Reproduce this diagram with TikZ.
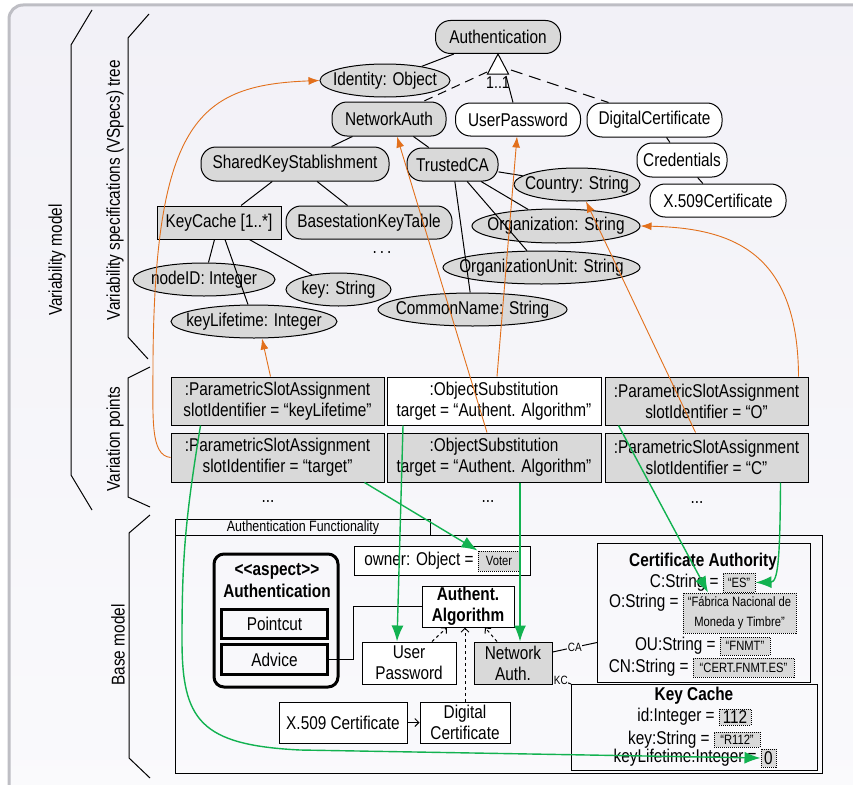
\documentclass[tikz,border=0pt]{standalone}
\usepackage{fontspec}
\setmainfont{Liberation Sans}[FakeStretch=0.83]
\usepackage{tikz}
\usetikzlibrary{arrows.meta,shapes.geometric,positioning}

\definecolor{vmgray}{RGB}{217,217,217}
\definecolor{vmorange}{RGB}{226,112,28}
\definecolor{vmgreen}{RGB}{18,178,80}
\definecolor{vmframe}{RGB}{190,190,196}
\definecolor{vmback}{RGB}{242,241,247}
\definecolor{vmbacklow}{RGB}{250,250,252}

\newcommand{\vmfont}{\fontsize{18.5}{21}\selectfont}
\newcommand{\valfont}{\fontsize{13.5}{20}\selectfont}
\newcommand{\tabfont}{\fontsize{15}{17}\selectfont}
\newcommand{\tagfont}{\fontsize{12}{14}\selectfont}
\newcommand{\cardfont}{\fontsize{17}{19}\selectfont}
\newcommand{\zw}[1]{\makebox[0pt]{#1}}

\tikzset{
        vspec/.style={draw, fill=vmgray, rounded corners=15pt, minimum height=33pt, inner sep=2pt},
        vspecw/.style={vspec, fill=white},
        vattr/.style={draw, fill=vmgray, ellipse, minimum height=33pt, inner sep=0pt},
        vpoint/.style={draw, fill=vmgray, minimum height=48pt, align=center, inner sep=0pt},
        bclass/.style={draw, fill=white, align=center, minimum height=41pt, inner sep=0pt},
        bval/.style={draw, densely dotted, fill=vmgray, inner sep=0pt, font=\valfont},
        btitle/.style={font=\vmfont\bfseries},
        realize/.style={vmorange, line width=0.9pt, -{Latex[length=11pt,width=8pt]}},
        resolve/.style={vmgreen, line width=1.4pt, -{Latex[length=16pt,width=12pt]}},
        dep/.style={dashed, -{Straight Barb[length=4pt,width=8pt]}},
}

\begin{document}
\begin{tikzpicture}[x=1pt, y=-1pt, line width=1pt, font=\vmfont]
        \useasboundingbox (0,0) rectangle (853,784);
        % frame
        \draw[vmframe, line width=3pt, rounded corners=14pt, top color=vmback, bottom color=vmbacklow] (9,5) rectangle (880,810);

        % brackets
        \draw (92,10) -- (71,45) -- (71,475) -- (92,510);
        \draw (149,14) -- (128,38) -- (128,337) -- (148,359);
        \draw (150,367) -- (128,378) -- (128,497) -- (150,507);
        \draw (150,515) -- (129,533) -- (129,758) -- (150,778);
        \node[rotate=90] (lblvm) at (57,260) {Variability model};
        \node[rotate=90] (lblvs) at (115,190) {Variability specifications (VSpecs) tree};
        \node[rotate=90] (lblvp) at (115,439) {Variation points};
        \node[rotate=90] (lblbm) at (118,645) {Base model};

        % vspecs tree
        \node[vspec, minimum width=125pt] (auth) at (498,37) {Authentication};
        \node[vattr, minimum width=130pt] (identity) at (385,80.5) {\zw{Identity: Object}};
        \node[vspec, minimum width=114pt, minimum height=34pt] (netauth) at (389,119) {NetworkAuth};
        \node[vspecw, minimum width=125pt] (userpw) at (518,119.5) {UserPassword};
        \node[vspecw, minimum width=135pt, minimum height=34pt] (digcert) at (654.5,120) {DigitalCertificate};
        \node[vspecw, minimum width=90pt, minimum height=34pt] (creds) at (682,160) {Credentials};
        \node[vspecw, minimum width=136pt] (x509) at (718,200.5) {X.509Certificate};
        \node[vspec, minimum width=188pt, minimum height=34pt] (sharedkey) at (295,164) {SharedKeyStablishment};
        \node[vspec, minimum width=91pt] (trustedca) at (452.5,164.5) {TrustedCA};
        \node[draw, fill=vmgray, minimum width=124pt, minimum height=33pt] (keycache) at (219,222.5) {KeyCache [1..*]};
        \node[vspec, minimum width=166pt] (bskt) at (369,222.5) {BasestationKeyTable};
        \node (vsdots) at (382,253) {.\,.\,.};
        \node[vattr, minimum width=126pt] (country) at (577,184.5) {\zw{Country: String}};
        \node[vattr, minimum width=168pt, minimum height=34pt] (org) at (556,226) {\zw{Organization: String}};
        \node[vattr, minimum width=197pt] (orgunit) at (541.5,267.5) {\zw{OrganizationUnit: String}};
        \node[vattr, minimum width=189pt] (cname) at (472.5,309.5) {\zw{CommonName: String}};
        \node[vattr, minimum width=142pt] (nodeid) at (204,279.5) {\zw{nodeID: Integer}};
        \node[vattr, minimum width=105pt] (keystr) at (338.5,289.5) {\zw{key: String}};
        \node[vattr, minimum width=166pt] (lifetime) at (254,321.5) {\zw{keyLifetime: Integer}};

        % tree lines
        \draw (auth) -- (identity);
        \draw (netauth) -- (sharedkey);
        \draw (netauth) -- (trustedca);
        \draw (sharedkey) -- (keycache);
        \draw (sharedkey) -- (bskt);
        \draw (keycache) -- (nodeid);
        \draw (keycache) -- (lifetime);
        \draw (keycache) -- (keystr);
        \draw (trustedca) -- (country);
        \draw (trustedca) -- (org);
        \draw (trustedca) -- (orgunit);
        \draw (trustedca) -- (cname);
        \draw (digcert) -- (creds);
        \draw (creds) -- (x509);

        % group
        \coordinate (grpl) at (487,72);
        \coordinate (grpm) at (506,76);
        \coordinate (grpr) at (511,70);
        \draw[dash pattern=on 9pt off 6pt] (grpl) -- ([xshift=34pt]netauth.north);
        \draw (grpm) -- ([xshift=-5pt]userpw.north);
        \draw[dash pattern=on 12pt off 7pt] (grpr) -- ([xshift=-46pt]digcert.north);
        \draw[fill=white] (auth.south) -- ++(-10.5,20) -- ++(21,0) -- cycle;
        \node[font=\cardfont] (grpcard) at (498,83) {1..1};

        % variation points
        \node[vpoint, minimum width=213pt] (vp1) at (277.5,401) {:ParametricSlotAssignment\\slotIdentifier = “keyLifetime”};
        \node[vpoint, fill=white, minimum width=214pt] (vp2) at (494,401) {:ObjectSubstitution\\target = “Authent. Algorithm”};
        \node[vpoint, minimum width=203pt] (vp3) at (706.5,401) {:ParametricSlotAssignment\\slotIdentifier = “O”};
        \node[vpoint, minimum width=213pt, minimum height=49pt] (vp4) at (277.5,457.5) {:ParametricSlotAssignment\\slotIdentifier = “target”};
        \node[vpoint, minimum width=214pt, minimum height=49pt] (vp5) at (494,457.5) {:ObjectSubstitution\\target = “Authent. Algorithm”};
        \node[vpoint, minimum width=203pt, minimum height=49pt] (vp6) at (706.5,457.5) {:ParametricSlotAssignment\\slotIdentifier = “C”};
        \node (vpdots1) at (268,502) {...};
        \node (vpdots2) at (488,502) {...};
        \node (vpdots3) at (697,503) {...};

        % base model
        \node[draw, minimum width=255pt, minimum height=16pt, inner sep=0pt, anchor=north west, font=\tabfont] (pkgtab) at (175,519) {Authentication Functionality};
        \node[draw, minimum width=647pt, minimum height=238pt, anchor=north west] (pkg) at (175,535) {};

        \node[draw, line width=3pt, rounded corners=10pt, minimum width=124pt, minimum height=133pt, anchor=north west] (aspect) at (212.5,552.5) {};
        \node[btitle] (aspkind) at (277,571) {<\kern0pt<aspect>\kern0pt>};
        \node[btitle] (aspname) at (277,591) {Authentication};
        \node[draw, line width=3pt, minimum width=106pt, minimum height=29pt] (pointcut) at (274.5,624) {Pointcut};
        \node[draw, line width=3pt, minimum width=106pt, minimum height=30pt] (advice) at (274.5,659.5) {Advice};

        \node[draw, fill=white, minimum width=176pt, minimum height=29pt, anchor=north west] (owner) at (354,546) {};
        \node[bval, minimum width=42pt, minimum height=20pt] (voter) at (499,561) {Voter};
        \node[left=0pt of voter] (ownerlbl) {owner: Object =};

        \node[bclass, btitle, minimum width=92pt] (algo) at (468,606.5) {Authent.\\Algorithm};
        \node[bclass, minimum width=94pt, minimum height=42pt] (bupw) at (409,663) {User\\Password};
        \node[bclass, fill=vmgray, minimum width=78pt, minimum height=42pt] (bnet) at (513,663) {Network\\Auth.};
        \node[bclass, minimum width=128pt] (bx509) at (343,722.5) {X.509 Certificate};
        \node[bclass, minimum width=90pt] (bdig) at (465,722.5) {Digital\\Certificate};

        \draw (advice.east) -- ++(24,0) |- (algo.west);
        \draw[dep] ([xshift=23pt]bupw.north) -- ([xshift=-21pt]algo.south);
        \draw[dep] (bdig.north) -- (bdig.north |- algo.south);
        \draw[dep] ([xshift=-16pt]bnet.north) -- ([xshift=17pt]algo.south);
        \draw[-{Straight Barb[length=4pt,width=8pt]}] (bx509.east) -- (bdig.west);

        % certificate authority
        \node[draw, minimum width=213pt, minimum height=139pt, anchor=north west] (certauth) at (597,543) {};
        \node[btitle] (catitle) at (703,562) {Certificate Authority};
        \node[bval, minimum width=32pt, minimum height=19pt] (esval) at (739,582.5) {“ES”};
        \node[left=0pt of esval] (clbl) {C:String =};
        \node[bval, align=center, minimum width=113pt, minimum height=40pt] (oval) at (739.5,613) {“Fábrica Nacional de\\Moneda y Timbre”};
        \node[anchor=east] (olbl) at ([yshift=10pt]oval.west) {O:String =};
        \node[bval, minimum width=50pt, minimum height=18pt] (fnmtval) at (745,646) {“FNMT”};
        \node[left=0pt of fnmtval] (oulbl) {OU:String =};
        \node[bval, minimum width=101pt, minimum height=19pt] (cnval) at (743.5,667.5) {“CERT.FNMT.ES”};
        \node[left=0pt of cnval] (cnlbl) {CN:String =};

        % key cache
        \node[draw, minimum width=246pt, minimum height=86pt, anchor=north west] (kcbox) at (571,684) {};
        \node[btitle] (kctitle) at (694,696) {Key Cache};
        \node[bval, font=\vmfont, minimum width=32pt, minimum height=16pt] (idval) at (735,717) {112};
        \node[left=0pt of idval] (idlbl) {id:Integer =};
        \node[bval, minimum width=46pt, minimum height=15pt] (keyval) at (737,739.5) {“R112”};
        \node[left=0pt of keyval] (keylbl) {key:String =};
        \node[bval, font=\vmfont, minimum width=15pt, minimum height=18pt] (zeroval) at (768.5,758) {0};
        \node[left=0pt of zeroval] (ltlbl) {keyLifetime:Integer =};

        \draw ([yshift=11pt]bnet.east) -- node[fill=vmbacklow, inner sep=0.5pt, font=\tagfont] {CA} ([yshift=-29.5pt]certauth.west);
        \draw ([yshift=-14pt]bnet.east) -- node[pos=0.45, fill=vmbacklow, inner sep=0.5pt, font=\tagfont] {KC} (kcbox.north west);

        % realization arrows
        \draw[realize] ([xshift=-7pt]vp1.north) -- ([xshift=8pt]lifetime.south);
        \draw[realize] ([xshift=3pt]vp2.north) -- ([xshift=-1pt]userpw.south);
        \draw[realize] ([xshift=-7pt]vp5.north) -- ([xshift=8pt]netauth.south);
        \draw[realize] ([xshift=-11pt]vp6.north) -- ([xshift=9pt]country.south);
        \draw[realize] ([xshift=92pt]vp3.north) .. controls (798,250) and (730,228) .. (org.east);
        \draw[realize] (vp4.west) .. controls (150,455) and (153,420) .. (153,360) .. controls (155,120) and (200,85) .. (identity.west);

        % resolution arrows
        \draw[resolve] ([xshift=-77pt]vp1.south) .. controls (185,520) and (182,560) .. (182,640) .. controls (182,720) and (200,745) .. (300,750) -- (zeroval.west);
        \draw[resolve] ([xshift=-20pt]vp4.south east) -- (voter.north west);
        \draw[resolve] ([xshift=-91pt]vp2.south) -- ([xshift=-12pt]bupw.north);
        \draw[resolve] ([xshift=26pt]vp5.south) -- ([xshift=7pt]bnet.north);
        \draw[resolve] ([xshift=-88pt]vp3.south) -- ([xshift=-31.5pt]oval.north);
        \draw[resolve] ([xshift=74pt]vp6.south) .. controls (780,560) and (778,582) .. (esval.east);

    \end{tikzpicture}
\end{document}
